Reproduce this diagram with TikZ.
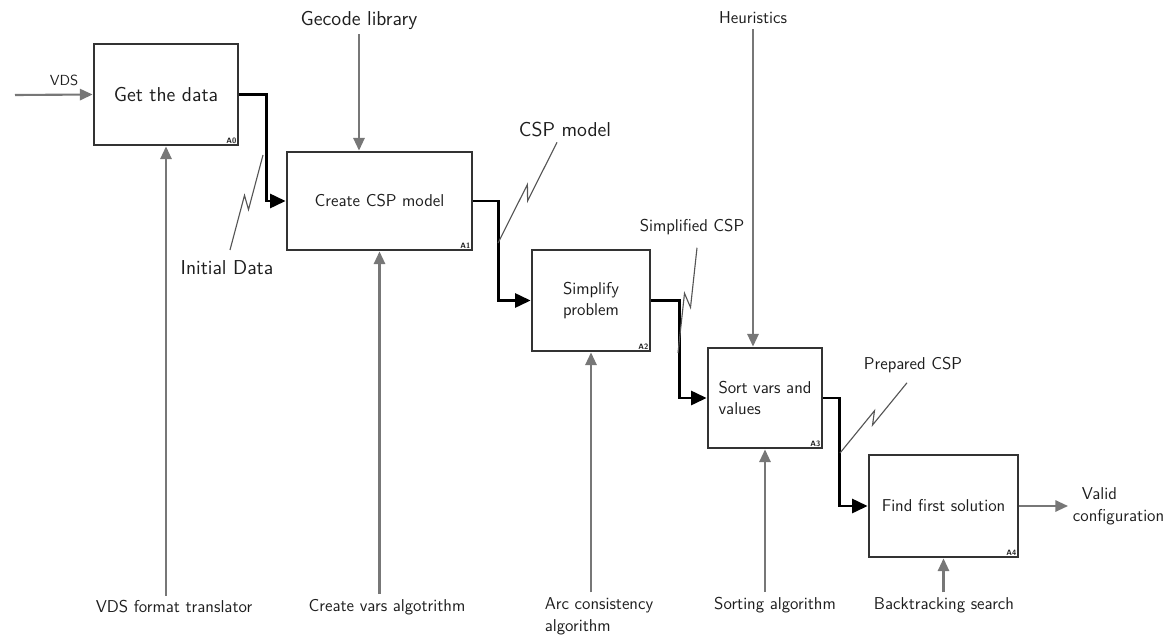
\documentclass[tikz,border=0pt]{standalone}
\usetikzlibrary{arrows.meta,calc,positioning}
\renewcommand{\familydefault}{\sfdefault}

\definecolor{boxgray}{HTML}{333333}
\definecolor{ctrlgray}{HTML}{777777}
\definecolor{sqgray}{HTML}{555555}
\definecolor{txtgray}{HTML}{1E1E1E}

\tikzset{
  box/.style={draw=boxgray, line width=2pt, fill=white, text=txtgray,
    font=\fontsize{12.2}{15}\selectfont},
  flow/.style={draw=black, line width=1.8pt, -{Triangle[length=11pt,width=10pt]}},
  ctrl/.style={draw=ctrlgray, line width=1.5pt, -{Triangle[length=9pt,width=8pt]}},
  squig/.style={draw=sqgray, line width=0.8pt},
  lbl/.style={text=txtgray, font=\fontsize{12.2}{15.6}\selectfont},
  biglbl/.style={text=txtgray, font=\fontsize{14.3}{17}\selectfont},
  boxid/.style={anchor=south east, inner sep=2pt, text=txtgray,
    font=\fontsize{5.5}{6}\selectfont\bfseries},
}

% zig-zag leader from a label to its arrow
\newcommand{\zap}[2]{%
  \draw[squig] (#1) -- ($(#1)!0.56!(#2)!3pt!90:(#2)$)
    -- ($(#1)!0.44!(#2)!3pt!-90:(#2)$) -- (#2);}

\begin{document}
\begin{tikzpicture}[x=0.025cm, y=-0.025cm]

    % --- Frame ---
    \useasboundingbox (0,0) rectangle (1168,637);

    % --- Activity boxes ---
    \node[box, minimum width=3.6cm, minimum height=2.525cm, font=\fontsize{14.3}{17}\selectfont] (A0) at (166,94.5) {Get the data};
    \node[box, minimum width=4.625cm, minimum height=2.45cm] (A1) at (379.5,201) {Create CSP model};
    \node[box, minimum width=2.95cm, minimum height=2.525cm, align=center] (A2) at (591,300.5) {Simplify\\problem};
    \node[box, minimum width=2.85cm, minimum height=2.5cm, align=left] (A3) at (765,398) {Sort vars and\\values};
    \node[box, minimum width=3.725cm, minimum height=2.55cm] (A4) at (943.5,506) {Find first solution};

    % box numbers
    \node[boxid] at (A0.south east) {A0};
    \node[boxid] at (A1.south east) {A1};
    \node[boxid] at (A2.south east) {A2};
    \node[boxid] at (A3.south east) {A3};
    \node[boxid] at (A4.south east) {A4};

    % --- Input and output ---
    \coordinate (vdsin) at (15,95);
    \node[lbl, font=\fontsize{10.4}{12}\selectfont] (vds) at (64,80) {VDS};
    \draw[ctrl] (vdsin) -- (A0.west);

    \node[lbl, anchor=west, align=left] (valid) at (1068,506) {\hspace*{0.22cm}Valid\\configuration};
    \draw[ctrl] (A4.east) -- (valid.west);

    % --- Flow between activities ---
    \draw[flow] (A0.east) -- ++(27,0) |- (A1.west);
    \draw[flow] (A1.east) -- ++(25,0) |- (A2.west);
    \draw[flow] (A2.east) -- ++(28,0) |- (A3.west);
    \draw[flow] (A3.east) -- ++(16,0) |- (A4.west);

    % --- Controls from above ---
    \node[biglbl] (gecode) at (359,20) {Gecode library};
    \draw[ctrl] (gecode.south) -- (gecode.south |- A1.north);

    \node[lbl] (heur) at (753,18) {Heuristics};
    \draw[ctrl] (heur.south) -- (heur.south |- A3.north);

    % --- Mechanisms from below ---
    \node[lbl] (vdsft) at (174,607) {VDS format translator};
    \draw[ctrl] (vdsft.north -| A0.south) -- (A0.south);

    \node[lbl] (cva) at (387,607) {Create vars algotrithm};
    \draw[ctrl] (cva.north -| A1.south) -- (A1.south);

    \node[lbl, align=left] (arc) at (599,616) {Arc consistency\\algorithm};
    \draw[ctrl] (arc.north -| A2.south) -- (A2.south);

    \node[lbl] (sortalg) at (775,605) {Sorting algorithm};
    \draw[ctrl] (sortalg.north -| A3.south) -- (A3.south);

    \node[lbl] (bts) at (944,605) {Backtracking search};
    \draw[ctrl] (bts.north -| A4.south) -- (A4.south);

    % --- Data labels with zig-zag leaders ---
    \node[biglbl] (initdata) at (227,268) {Initial Data};
    \coordinate (initA) at (263,155);
    \coordinate (initB) at ($(initdata.north)+(3,-6)$);
    \zap{initA}{initB}

    \node[biglbl] (csp) at (565,130) {CSP model};
    \coordinate (cspA) at (498,243);
    \coordinate (cspB) at ($(csp.south)+(-8,0)$);
    \zap{cspA}{cspB}

    \node[lbl] (simp) at (692,227) {Simplified CSP};
    \coordinate (simpA) at (678,353);
    \coordinate (simpB) at ($(simp.south)+(5,8)$);
    \zap{simpA}{simpB}

    \node[lbl] (prep) at (913,365) {Prepared CSP};
    \coordinate (prepA) at (840,453);
    \coordinate (prepB) at ($(prep.south)+(-6,5)$);
    \zap{prepA}{prepB}

\end{tikzpicture}
\end{document}
